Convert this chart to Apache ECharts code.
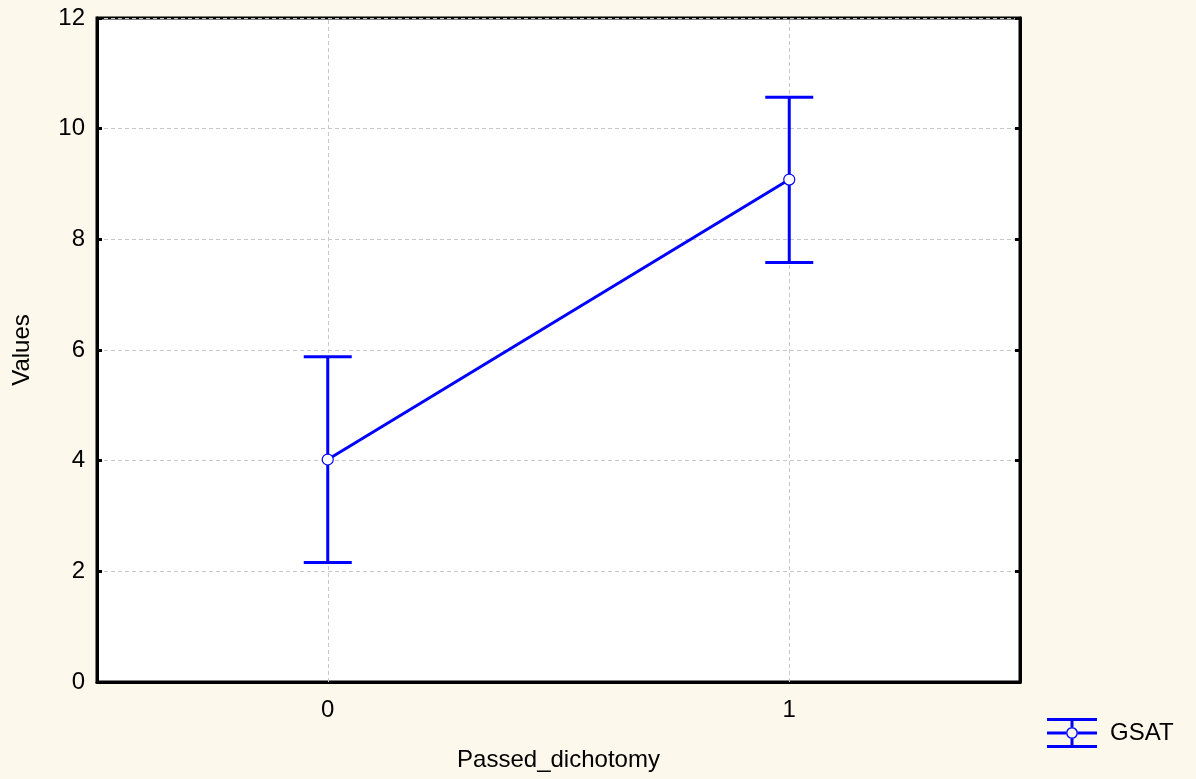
<!DOCTYPE html>
<html>
<head>
<meta charset="utf-8">
<script src="https://cdn.jsdelivr.net/npm/echarts@6/dist/echarts.min.js"></script>
<style>
  html, body { margin: 0; padding: 0; background: #FDF8EC; }
  #chart { width: 1196px; height: 779px; }
</style>
</head>
<body>
<div id="chart"></div>
<script>
const categories = ['0', '1'];
const means = [4.02, 9.08];
const upper = [5.88, 10.57];
const lower = [2.16, 7.58];
const yTicks = [0, 2, 4, 6, 8, 10, 12];
const seriesName = 'GSAT';

const chart = echarts.init(document.getElementById('chart'));
const blue = '#0000FF';
const font = 'Liberation Sans, Arial, sans-serif';
const fs = 24;

const legendIcon = 'path://M0 0H50V3H0Z M0 27H50V30H0Z M0 13.5H19V16.5H0Z M31 13.5H50V16.5H31Z M23.5 3H26.5V9H23.5Z M23.5 21H26.5V27H23.5Z M19 15A6 6 0 1 0 31 15A6 6 0 1 0 19 15Z M20.5 15A4.5 4.5 0 1 1 29.5 15A4.5 4.5 0 1 1 20.5 15Z';

const option = {
  backgroundColor: '#FDF8EC',
  animation: false,
  color: [blue],
  grid: {
    left: 97, right: 176, top: 18, bottom: 97,
    show: true, backgroundColor: '#FFFFFF', borderColor: '#000', borderWidth: 3
  },
  legend: {
    data: [{ name: seriesName, icon: legendIcon, itemStyle: { color: blue } }],
    left: 1042, top: 713,
    itemWidth: 50, itemHeight: 30,
    textStyle: { fontFamily: font, fontSize: fs, color: '#000', padding: [0, 0, 0, 8] }
  },
  xAxis: {
    type: 'category',
    data: categories,
    boundaryGap: true,
    name: 'Passed_dichotomy',
    nameLocation: 'middle',
    nameGap: 66,
    nameTextStyle: { fontFamily: font, fontSize: fs, color: '#000' },
    axisLine: { lineStyle: { color: '#000', width: 3 } },
    axisTick: { inside: true, alignWithLabel: true, length: 5, lineStyle: { color: '#000', width: 3 } },
    axisLabel: { fontFamily: font, fontSize: fs, color: '#000', margin: 16 },
    splitLine: { show: false }
  },
  yAxis: [{
    type: 'value',
    min: yTicks[0], max: yTicks[yTicks.length - 1], interval: 2,
    name: 'Values',
    nameLocation: 'middle',
    nameGap: 63,
    nameTextStyle: { fontFamily: font, fontSize: fs, color: '#000' },
    axisLine: { show: true, lineStyle: { color: '#000', width: 3 } },
    axisTick: { show: true, inside: true, length: 5, lineStyle: { color: '#000', width: 3 } },
    axisLabel: { fontFamily: font, fontSize: fs, color: '#000', margin: 12 },
    splitLine: { show: true, lineStyle: { color: '#C8C8C8', type: [4, 3], width: 1 } }
  }, {
    type: 'value', position: 'right',
    min: yTicks[0], max: yTicks[yTicks.length - 1], interval: 2,
    axisLine: { show: true, lineStyle: { color: '#000', width: 3 } },
    axisTick: { show: true, inside: true, length: 5, lineStyle: { color: '#000', width: 3 } },
    axisLabel: { show: false },
    splitLine: { show: false }
  }],
  series: [
    {
      name: seriesName,
      type: 'custom',
      z: 3,
      itemStyle: { color: blue },
      data: categories.map((c, i) => [i, lower[i], upper[i]]),
      renderItem: function (params, api) {
        const x = api.value(0);
        const lo = api.coord([x, api.value(1)]);
        const hi = api.coord([x, api.value(2)]);
        const hw = 24;
        const st = { stroke: blue, lineWidth: 3 };
        return {
          type: 'group',
          children: [
            { type: 'line', shape: { x1: lo[0], y1: lo[1], x2: hi[0], y2: hi[1] }, style: st },
            { type: 'line', shape: { x1: lo[0] - hw, y1: lo[1], x2: lo[0] + hw, y2: lo[1] }, style: st },
            { type: 'line', shape: { x1: hi[0] - hw, y1: hi[1], x2: hi[0] + hw, y2: hi[1] }, style: st }
          ]
        };
      }
    },
    {
      name: seriesName,
      type: 'line',
      z: 4,
      data: means,
      symbol: 'circle',
      symbolSize: 11,
      itemStyle: { color: '#FFFFFF', borderColor: blue, borderWidth: 1.2 },
      lineStyle: { color: blue, width: 3 },
      markLine: {
        silent: true,
        symbol: 'none',
        label: { show: false },
        lineStyle: { color: '#C8C8C8', type: [4, 3], width: 1 },
        data: categories.map(c => ({ xAxis: c })),
        z: 1
      }
    }
  ]
};
chart.setOption(option);
</script>
</body>
</html>
